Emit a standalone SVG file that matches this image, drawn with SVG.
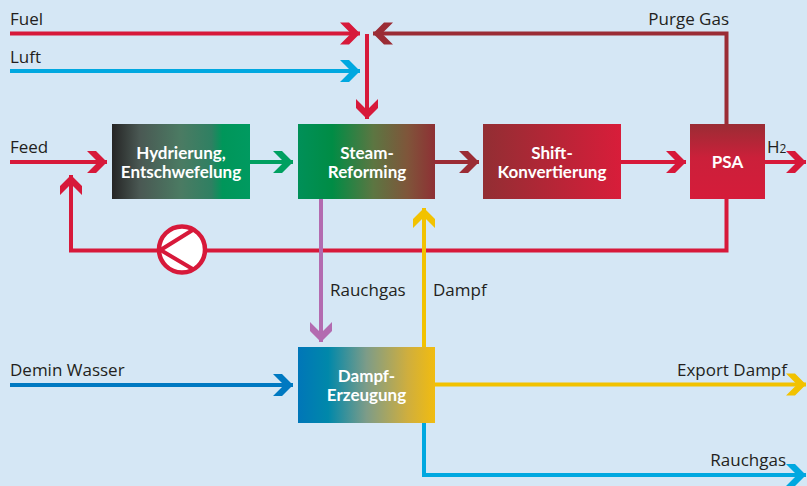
<svg xmlns="http://www.w3.org/2000/svg" width="807" height="486" viewBox="0 0 807 486">
  <style>
    .lbl { font-family: "Open Sans", "Lato", sans-serif; font-size: 17px; font-weight: 500; fill: #231f20; }
    .box-text { font-family: "Lato", "Open Sans", sans-serif; font-size: 17px; font-weight: bold; fill: #ffffff; text-anchor: middle; }
    .ln { fill: none; stroke-width: 4; }
    .red { stroke: #d7193a; }
    .dred { stroke: #9b2c35; }
    .cyan { stroke: #00a8e0; }
    .blue { stroke: #0079c1; }
    .yel { stroke: #f2c200; }
    .grn { stroke: #00a060; }
    .pur { stroke: #b36bb0; }
  </style>
  <defs>
    <!-- chevron arrowheads, one per stream colour -->
    <marker id="ah-red" markerUnits="userSpaceOnUse" markerWidth="22" markerHeight="24" refX="20" refY="0" viewBox="0 -12 22 24" orient="auto" overflow="visible">
      <path d="M0,-11 L9,-11 L20,0 L9,11 L0,11 L11,0 Z" fill="#d7193a"/>
    </marker>
    <marker id="ah-dred" markerUnits="userSpaceOnUse" markerWidth="22" markerHeight="24" refX="20" refY="0" viewBox="0 -12 22 24" orient="auto" overflow="visible">
      <path d="M0,-11 L9,-11 L20,0 L9,11 L0,11 L11,0 Z" fill="#9b2c35"/>
    </marker>
    <marker id="ah-cyan" markerUnits="userSpaceOnUse" markerWidth="22" markerHeight="24" refX="20" refY="0" viewBox="0 -12 22 24" orient="auto" overflow="visible">
      <path d="M0,-11 L9,-11 L20,0 L9,11 L0,11 L11,0 Z" fill="#00a8e0"/>
    </marker>
    <marker id="ah-blue" markerUnits="userSpaceOnUse" markerWidth="22" markerHeight="24" refX="20" refY="0" viewBox="0 -12 22 24" orient="auto" overflow="visible">
      <path d="M0,-11 L9,-11 L20,0 L9,11 L0,11 L11,0 Z" fill="#0079c1"/>
    </marker>
    <marker id="ah-yel" markerUnits="userSpaceOnUse" markerWidth="22" markerHeight="24" refX="20" refY="0" viewBox="0 -12 22 24" orient="auto" overflow="visible">
      <path d="M0,-11 L9,-11 L20,0 L9,11 L0,11 L11,0 Z" fill="#f2c200"/>
    </marker>
    <marker id="ah-grn" markerUnits="userSpaceOnUse" markerWidth="22" markerHeight="24" refX="20" refY="0" viewBox="0 -12 22 24" orient="auto" overflow="visible">
      <path d="M0,-11 L9,-11 L20,0 L9,11 L0,11 L11,0 Z" fill="#00a060"/>
    </marker>
    <marker id="ah-pur" markerUnits="userSpaceOnUse" markerWidth="22" markerHeight="24" refX="20" refY="0" viewBox="0 -12 22 24" orient="auto" overflow="visible">
      <path d="M0,-11 L9,-11 L20,0 L9,11 L0,11 L11,0 Z" fill="#b36bb0"/>
    </marker>

    <linearGradient id="g-hyd" x1="0" y1="0" x2="1" y2="0">
      <stop offset="0" stop-color="#252525"/>
      <stop offset="0.2" stop-color="#4a5853"/>
      <stop offset="0.5" stop-color="#4b7b63"/>
      <stop offset="0.72" stop-color="#2f8062"/>
      <stop offset="0.8" stop-color="#00965a"/>
      <stop offset="1" stop-color="#009a60"/>
    </linearGradient>
    <linearGradient id="g-steam" x1="0" y1="0" x2="1" y2="0">
      <stop offset="0" stop-color="#009058"/>
      <stop offset="0.25" stop-color="#008c45"/>
      <stop offset="0.55" stop-color="#5c7642"/>
      <stop offset="0.8" stop-color="#7f553a"/>
      <stop offset="1" stop-color="#8e3034"/>
    </linearGradient>
    <linearGradient id="g-shift" x1="0" y1="0" x2="1" y2="0">
      <stop offset="0" stop-color="#922e33"/>
      <stop offset="1" stop-color="#d81d3a"/>
    </linearGradient>
    <linearGradient id="g-psa" x1="0" y1="0" x2="0" y2="1">
      <stop offset="0" stop-color="#9a2c34"/>
      <stop offset="0.45" stop-color="#cb203a"/>
      <stop offset="1" stop-color="#d51c3a"/>
    </linearGradient>
    <linearGradient id="g-dampf" x1="0" y1="0" x2="1" y2="0">
      <stop offset="0" stop-color="#0076b8"/>
      <stop offset="0.22" stop-color="#0088aa"/>
      <stop offset="0.5" stop-color="#7d9c88"/>
      <stop offset="0.8" stop-color="#cfae3e"/>
      <stop offset="1" stop-color="#f1bc10"/>
    </linearGradient>
  </defs>

  <rect width="807" height="486" fill="#d5e7f5"/>

  <!-- stream lines -->
  <g id="connectors">
    <line class="ln red" x1="10" y1="33.5" x2="360" y2="33.5" marker-end="url(#ah-red)"/>
    <line class="ln cyan" x1="10" y1="71" x2="360" y2="71" marker-end="url(#ah-cyan)"/>
    <polyline class="ln dred" points="726.5,124 726.5,33.5 373,33.5" marker-end="url(#ah-dred)"/>
    <line class="ln red" x1="367" y1="34" x2="367" y2="119" marker-end="url(#ah-red)"/>
    <line class="ln red" x1="10" y1="162" x2="107" y2="162" marker-end="url(#ah-red)"/>
    <line class="ln grn" x1="250" y1="162" x2="293" y2="162" marker-end="url(#ah-grn)"/>
    <line class="ln dred" x1="435" y1="162" x2="479" y2="162" marker-end="url(#ah-dred)"/>
    <line class="ln red" x1="621" y1="162" x2="686" y2="162" marker-end="url(#ah-red)"/>
    <line class="ln red" x1="765" y1="162" x2="806" y2="162" marker-end="url(#ah-red)"/>
    <polyline class="ln red" points="726.5,199 726.5,250.5 71,250.5 71,175" marker-end="url(#ah-red)"/>
    <line class="ln pur" x1="321" y1="199" x2="321" y2="342" marker-end="url(#ah-pur)"/>
    <line class="ln yel" x1="424" y1="347" x2="424" y2="208" marker-end="url(#ah-yel)"/>
    <line class="ln blue" x1="10" y1="385" x2="293" y2="385" marker-end="url(#ah-blue)"/>
    <line class="ln yel" x1="435" y1="384.5" x2="806" y2="384.5" marker-end="url(#ah-yel)"/>
    <polyline class="ln cyan" points="424,423 424,475 806,475" marker-end="url(#ah-cyan)"/>
  </g>

  <!-- recycle pump -->
  <g id="pump">
    <circle cx="182" cy="249.5" r="23" fill="#ffffff" stroke="#d7193a" stroke-width="4.5"/>
    <polyline points="193.5,229.5 160.5,250 193.5,269.5" fill="none" stroke="#d7193a" stroke-width="4"/>
  </g>

  <g id="hydrierung">
    <rect x="112" y="124" width="138" height="75" fill="url(#g-hyd)"/>
    <text class="box-text" x="181" y="159">Hydrierung,</text>
    <text class="box-text" x="181" y="178">Entschwefelung</text>
  </g>
  <g id="steam-reforming">
    <rect x="298" y="124" width="137" height="75" fill="url(#g-steam)"/>
    <text class="box-text" x="367" y="159">Steam-</text>
    <text class="box-text" x="367" y="178">Reforming</text>
  </g>
  <g id="shift">
    <rect x="483" y="124" width="138" height="75" fill="url(#g-shift)"/>
    <text class="box-text" x="552" y="159">Shift-</text>
    <text class="box-text" x="552" y="178">Konvertierung</text>
  </g>
  <g id="psa">
    <rect x="690" y="124" width="75" height="75" fill="url(#g-psa)"/>
    <text class="box-text" x="727.5" y="168">PSA</text>
  </g>
  <g id="dampferzeugung">
    <rect x="298" y="347" width="137" height="76" fill="url(#g-dampf)"/>
    <text class="box-text" x="366.5" y="382">Dampf-</text>
    <text class="box-text" x="366.5" y="401">Erzeugung</text>
  </g>

  <!-- stream labels -->
  <g id="labels">
    <text class="lbl" x="10" y="25">Fuel</text>
    <text class="lbl" x="10" y="63">Luft</text>
    <text class="lbl" x="10" y="153">Feed</text>
    <text class="lbl" x="729" y="25" text-anchor="end">Purge Gas</text>
    <text class="lbl" x="767" y="153" font-size="16">H<tspan font-size="12">2</tspan></text>
    <text class="lbl" x="330" y="296">Rauchgas</text>
    <text class="lbl" x="433" y="296">Dampf</text>
    <text class="lbl" x="10" y="376">Demin Wasser</text>
    <text class="lbl" x="787" y="376" text-anchor="end">Export Dampf</text>
    <text class="lbl" x="786" y="466" text-anchor="end">Rauchgas</text>
  </g>
</svg>
